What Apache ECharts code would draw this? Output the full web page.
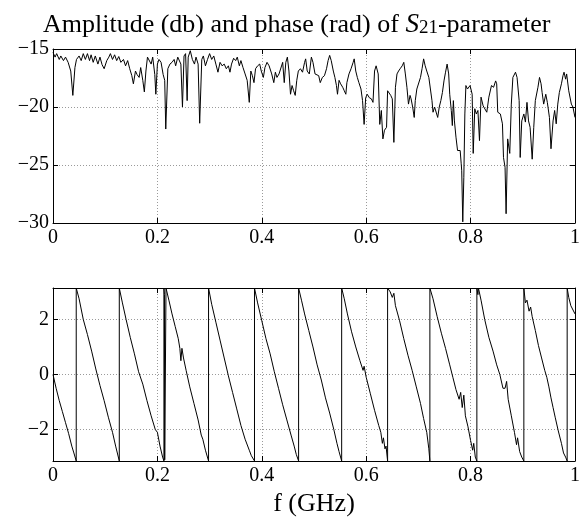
<!DOCTYPE html>
<html><head><meta charset="utf-8">
<script src="https://cdn.jsdelivr.net/npm/echarts@6/dist/echarts.min.js"></script>
<style>html,body{margin:0;padding:0;background:#fff}#c{width:587px;height:527px}</style>
</head><body><div id="c"></div>
<script>
// ---- Amplitude (dB) of S21 ----
const ampF = [
0.000,0.004,0.007,0.012,0.015,0.020,0.024,0.029,0.034,0.038,0.042,0.045,0.050,0.054,0.058,0.062,0.066,0.070,0.073,0.077,
0.081,0.086,0.090,0.094,0.098,0.103,0.107,0.110,0.114,0.118,0.122,0.126,0.130,0.135,0.139,0.143,0.147,0.151,0.154,0.158,
0.161,0.165,0.168,0.172,0.175,0.178,0.181,0.184,0.188,0.191,0.195,0.197,0.200,0.203,
0.207,0.211,0.214,0.216,0.220,0.224,0.228,0.232,0.235,0.239,0.242,0.245,0.248,0.251,0.254,0.257,0.259,0.263,0.267,0.271,
0.274,0.278,0.281,0.285,0.288,0.292,0.296,0.300,0.304,0.308,0.312,0.316,0.320,0.324,0.328,0.332,0.336,0.339,0.342,0.346,
0.350,0.353,0.357,0.360,0.364,0.368,0.372,0.376,0.379,0.382,0.385,0.388,0.392,0.396,0.399,0.403,
0.406,0.410,0.414,0.419,0.423,0.426,0.429,0.433,0.436,0.440,0.443,0.446,0.449,0.452,0.455,0.458,0.461,0.464,0.467,0.470,
0.474,0.478,0.482,0.484,0.487,0.491,0.495,0.498,0.502,0.505,0.509,0.512,0.516,0.520,0.524,0.527,0.530,0.533,0.537,0.540,
0.543,0.545,0.548,0.551,0.555,0.558,0.561,0.563,0.567,0.571,0.575,0.577,0.580,0.583,0.586,0.590,0.593,0.596,0.599,0.602,0.606,
0.610,0.613,0.616,0.619,0.623,0.626,0.629,0.632,0.635,0.639,0.641,0.644,0.647,0.650,0.653,0.656,0.659,0.662,0.665,0.669,
0.672,0.675,0.678,0.681,0.684,0.686,0.689,0.692,0.694,0.697,0.700,0.704,0.707,0.710,0.713,0.716,0.720,0.723,0.726,0.728,
0.731,0.734,0.737,0.740,0.743,0.746,0.749,0.752,0.755,0.758,0.760,0.763,0.765,0.767,0.769,0.772,0.775,0.777,0.780,0.782,
0.783,0.785,0.787,0.789,0.791,0.794,0.796,0.799,0.801,0.803,0.805,
0.808,0.811,0.814,0.817,0.820,0.824,0.827,0.831,0.835,0.840,0.844,0.848,0.850,0.852,0.857,0.861,0.863,0.866,0.868,0.871,
0.875,0.878,0.881,0.886,0.889,0.893,0.895,0.898,0.902,0.905,0.908,0.911,0.914,0.918,0.921,0.924,0.929,0.932,0.935,0.937,
0.940,0.944,0.947,0.951,0.954,0.958,0.961,0.964,0.967,0.970,0.974,0.977,0.979,0.982,0.984,0.988,0.993,0.996,1.000
];
const ampV = [
-15.3,-15.7,-15.4,-15.9,-15.6,-16.0,-15.7,-16.15,-16.9,-19.0,-16.6,-15.9,-15.6,-16.0,-15.4,-15.9,-15.4,-16.0,-15.5,-16.15,
-15.6,-16.3,-15.7,-16.35,-16.7,-16.0,-15.7,-15.4,-15.9,-15.5,-16.0,-15.65,-16.15,-15.9,-16.45,-16.0,-16.7,-17.3,-18.0,-16.9,
-17.2,-17.45,-16.6,-17.7,-18.7,-16.9,-15.7,-15.6,-16.3,-15.7,-17.2,-18.9,-16.3,-15.9,
-16.15,-17.2,-17.7,-21.9,-16.7,-16.3,-16.15,-15.9,-16.45,-15.7,-15.6,-16.3,-20.0,-15.6,-15.4,-19.45,-15.7,-15.15,-15.9,-16.3,
-15.7,-16.3,-21.4,-15.9,-15.6,-16.45,-15.9,-15.4,-15.9,-15.6,-16.3,-17.0,-16.15,-16.45,-16.3,-16.7,-16.45,-17.0,-16.3,-15.8,
-16.0,-15.7,-16.45,-16.0,-16.6,-17.15,-17.7,-19.6,-16.9,-17.3,-17.9,-16.7,-16.45,-16.3,-16.9,-17.45,
-16.6,-16.15,-16.45,-17.15,-17.9,-17.0,-17.45,-17.15,-17.0,-16.15,-17.9,-16.15,-15.7,-16.9,-18.9,-18.15,-18.6,-19.0,-17.7,-16.9,
-16.7,-17.0,-16.15,-15.85,-16.9,-17.15,-15.7,-16.15,-17.15,-17.0,-17.3,-17.9,-17.45,-17.3,-16.7,-16.0,-15.55,-16.0,-16.9,-17.45,
-18.15,-18.9,-17.7,-18.0,-18.3,-18.6,-18.9,-17.9,-17.15,-16.7,-16.15,-15.85,-16.9,-17.45,-17.9,-18.45,-19.45,-21.5,-19.2,-18.9,-19.2,
-19.3,-19.6,-16.9,-16.45,-17.15,-21.5,-20.3,-22.75,-22.0,-21.75,-18.6,-18.75,-19.0,-19.3,-23.05,-18.3,-17.15,-16.9,-16.7,-16.45,
-16.15,-17.15,-18.3,-19.75,-19.0,-19.3,-20.0,-20.9,-19.45,-18.45,-18.45,-17.45,-16.7,-15.85,-16.45,-16.9,-17.45,-17.3,-19.45,-20.45,
-20.0,-20.15,-20.9,-20.0,-19.45,-18.75,-17.75,-17.0,-16.3,-17.15,-18.9,-20.3,-21.6,-19.45,-21.2,-22.6,-23.75,-23.9,-23.75,-24.9,
-25.5,-29.9,-26.1,-20.6,-18.15,-18.45,-18.6,-18.15,-18.0,-18.9,-24.0,
-20.15,-20.6,-20.3,-22.9,-19.15,-19.9,-20.0,-20.45,-19.15,-18.15,-18.3,-17.75,-18.0,-20.45,-20.6,-21.45,-24.35,-25.2,-29.2,-22.75,
-24.0,-19.75,-17.45,-17.0,-17.45,-19.45,-24.35,-21.2,-20.6,-21.3,-19.6,-21.2,-21.75,-24.5,-21.75,-19.45,-18.3,-17.45,-18.0,-18.75,
-19.75,-18.9,-19.6,-20.9,-23.6,-21.2,-20.3,-21.45,-19.75,-18.75,-18.0,-17.3,-17.0,-17.6,-17.15,-18.6,-19.75,-20.0,-20.9
];
// ---- Phase (rad) of S21 ----
const phF = [
0.000,0.006,0.012,0.018,0.024,0.030,0.036,0.040,0.042,0.0445,
0.0445,0.050,0.058,0.066,0.074,0.082,0.090,0.098,0.106,0.114,0.120,0.127,
0.127,0.133,0.140,0.148,0.156,0.164,0.172,0.180,0.188,0.196,0.200,0.205,0.210,0.2125,
0.2125,0.2135,0.2140,0.2165,
0.2165,0.222,0.228,0.234,0.240,0.243,0.245,0.247,0.250,0.255,0.262,0.270,0.278,0.284,0.287,0.292,0.298,
0.298,0.304,0.312,0.320,0.328,0.336,0.344,0.352,0.360,0.368,0.376,0.380,0.386,
0.386,0.392,0.400,0.408,0.416,0.424,0.432,0.440,0.448,0.456,0.462,0.466,0.4705,
0.4705,0.476,0.482,0.490,0.498,0.506,0.514,0.522,0.530,0.538,0.544,0.548,0.553,
0.553,0.558,0.564,0.572,0.580,0.588,0.594,0.596,0.600,0.608,0.616,0.624,0.628,0.631,0.633,0.636,0.638,0.641,
0.641,0.646,0.650,0.653,0.656,0.664,0.672,0.680,0.688,0.696,0.704,0.710,0.716,0.720,0.722,
0.722,0.728,0.736,0.744,0.752,0.760,0.766,0.772,0.778,0.781,0.784,0.787,0.790,0.795,0.800,0.804,0.806,0.809,0.812,
0.812,0.814,0.815,0.820,0.827,0.835,0.843,0.850,0.856,0.862,0.866,0.869,0.872,0.878,0.884,0.888,0.890,0.894,0.898,0.902,
0.902,0.905,0.908,0.912,0.915,0.918,0.924,0.930,0.936,0.942,0.946,0.950,0.954,0.958,0.962,0.968,0.974,0.978,0.982,0.985,
0.985,0.988,0.992,1.000
];
const phV = [
0.0,-0.5,-0.95,-1.35,-1.75,-2.15,-2.6,-2.85,-2.8,-3.14,
3.14,2.75,2.0,1.45,0.85,0.2,-0.4,-0.95,-1.55,-2.1,-2.6,-3.14,
3.14,2.6,2.0,1.35,0.75,0.1,-0.35,-0.95,-1.5,-2.0,-2.1,-2.6,-3.0,-3.14,
3.14,2.9,-3.1,-3.05,
3.14,2.7,2.2,1.75,1.3,0.95,0.5,0.95,0.6,0.15,-0.45,-1.05,-1.65,-2.2,-2.35,-2.75,-3.14,
3.14,2.55,1.9,1.25,0.6,-0.05,-0.65,-1.25,-1.85,-2.35,-2.75,-2.95,-3.14,
3.14,2.6,1.95,1.3,0.75,0.1,-0.5,-1.1,-1.65,-2.2,-2.6,-2.9,-3.14,
3.14,2.7,2.2,1.6,1.0,0.35,-0.2,-0.85,-1.4,-2.0,-2.5,-2.8,-3.14,
3.14,2.75,2.2,1.55,1.0,0.5,0.15,0.3,-0.1,-0.7,-1.3,-1.85,-2.1,-2.5,-2.3,-2.7,-2.6,-3.14,
3.14,3.0,2.8,2.95,2.5,1.95,1.3,0.7,0.15,-0.45,-1.05,-1.6,-2.1,-2.7,-3.14,
3.14,2.75,2.1,1.5,0.95,0.35,-0.1,-0.55,-0.9,-0.65,-1.2,-0.75,-1.5,-1.9,-2.4,-2.75,-2.5,-3.0,-3.14,
3.14,2.9,3.14,2.7,2.0,1.35,0.85,0.35,0.0,-0.5,-0.5,-0.25,-0.9,-1.5,-2.1,-2.55,-2.3,-2.8,-3.0,-3.14,
3.14,2.6,2.7,2.3,2.45,2.1,1.6,1.05,0.6,0.15,-0.1,-0.45,-0.85,-1.2,-1.55,-2.05,-2.5,-2.85,-3.0,-3.14,
3.14,2.8,2.5,2.2
];
const fTicks = [0, 0.2, 0.4, 0.6, 0.8, 1];

const FONT = 'Liberation Serif';
const fmt = v => String(+v.toFixed(2)).replace('-', '\u2212');
const grid0 = {left:53, top:49, width:522, height:174};
const grid1 = {left:53, top:288, width:522, height:173};
const dotted = {show:true, lineStyle:{color:'#9a9a9a', type:[1,2], width:1}};
const lineBlack = {show:true, onZero:false, lineStyle:{color:'#000', width:1}};
const tickIn = {show:true, inside:true, length:5, lineStyle:{color:'#000'}};
const LBL = 20;

function xA(gi, pos, labels, extra) {
  return Object.assign({
    type:'value', gridIndex:gi, position:pos, min:0, max:1, interval:0.2,
    axisLine:lineBlack, axisTick:tickIn,
    splitLine: pos==='bottom' ? dotted : {show:false},
    axisLabel: labels ? {show:true, margin:5, color:'#000', fontFamily:FONT, fontSize:LBL, formatter:fmt} : {show:false}
  }, extra||{});
}
function yA(gi, pos, labels, extra) {
  return Object.assign({
    type:'value', gridIndex:gi, position:pos,
    axisLine:lineBlack, axisTick:tickIn,
    splitLine: pos==='left' ? dotted : {show:false},
    axisLabel: labels ? {show:true, margin:4, color:'#000', fontFamily:FONT, fontSize:LBL, formatter:fmt} : {show:false}
  }, extra||{});
}
const ampRange = {min:-30, max:-15, interval:5};
const phRange = {min:-Math.PI, max:Math.PI, splitNumber:3};
const phLab = {show:true, margin:4, color:'#000', fontFamily:FONT, fontSize:LBL, formatter:fmt, showMinLabel:false, showMaxLabel:false};

const chart = echarts.init(document.getElementById('c'), null, {renderer:'canvas'});
chart.setOption({
  animation:false,
  backgroundColor:'#fff',
  title:{
    text:'{a|Amplitude (db) and phase (rad) of }{s|S}{b|21}{a|-parameter}',
    left:38, top:2,
    textStyle:{fontWeight:'normal', rich:{
      a:{fontFamily:FONT, fontWeight:'normal', fontSize:26, color:'#000', lineHeight:31, verticalAlign:'bottom'},
      s:{fontFamily:FONT, fontWeight:'normal', fontStyle:'italic', fontSize:27, color:'#000', lineHeight:31, verticalAlign:'bottom'},
      b:{fontFamily:FONT, fontWeight:'normal', fontSize:19, color:'#000', lineHeight:16, verticalAlign:'bottom'}
    }}
  },
  grid:[grid0, grid1],
  xAxis:[
    xA(0,'bottom',true),
    xA(0,'top',false),
    xA(1,'bottom',true,{name:'f (GHz)', nameLocation:'middle', nameGap:30,
      nameTextStyle:{fontFamily:FONT, fontSize:26, color:'#000'}}),
    xA(1,'top',false)
  ],
  yAxis:[
    yA(0,'left',true,ampRange),
    yA(0,'right',false,ampRange),
    Object.assign(yA(1,'left',true,phRange), {axisLabel:phLab}),
    yA(1,'right',false,phRange)
  ],
  series:[
    {type:'line', xAxisIndex:0, yAxisIndex:0, showSymbol:false, symbol:'none',
     lineStyle:{color:'#000', width:1}, data:ampF.map((f,i)=>[f, ampV[i]])},
    {type:'line', xAxisIndex:2, yAxisIndex:2, showSymbol:false, symbol:'none',
     lineStyle:{color:'#000', width:1}, data:phF.map((f,i)=>[f, phV[i]])}
  ]
});
</script></body></html>
